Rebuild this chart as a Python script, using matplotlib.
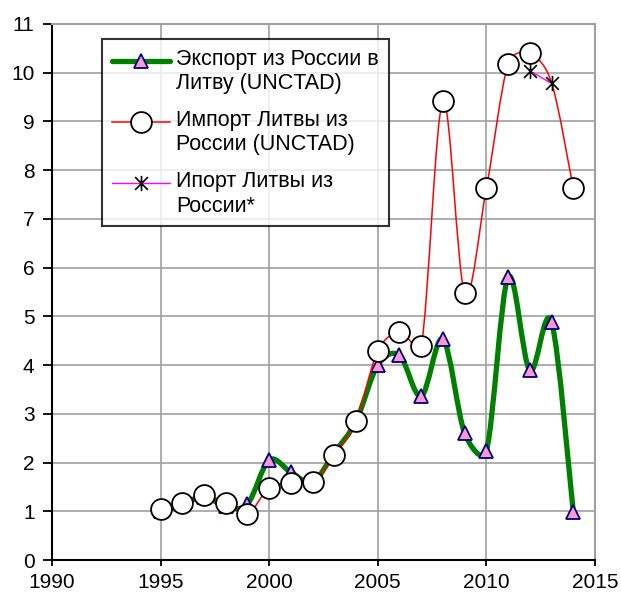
import numpy as np
import matplotlib
matplotlib.use('Agg')
import matplotlib.pyplot as plt
from matplotlib.path import Path
from matplotlib.patches import PathPatch
from matplotlib.lines import Line2D
from matplotlib.legend_handler import HandlerLine2D

plt.rcParams['font.family'] = ['Liberation Sans', 'DejaVu Sans']

years = list(range(1995, 2015))
export_ru_lt = [1.0, 1.15, 1.3, 1.1, 1.15, 2.05, 1.8, 1.6, 2.2, 2.85,
                4.0, 4.2, 3.36, 4.53, 2.6, 2.24, 5.8, 3.89, 4.88, 0.99]
import_lt_ru = [1.05, 1.17, 1.34, 1.17, 0.95, 1.48, 1.58, 1.6, 2.16, 2.86,
                4.29, 4.68, 4.39, 9.42, 5.48, 7.63, 10.18, 10.4, 9.8, 7.63]
star_years = [2012, 2013]
import_lt_ru_star = [10.04, 9.78]

labels = ['Экспорт из России в\nЛитву (UNCTAD)',
          'Импорт Литвы из\nРоссии (UNCTAD)',
          'Ипорт Литвы из\nРоссии*']

fig = plt.figure(figsize=(6.21, 5.94), dpi=100)
ax = fig.add_axes([0.0837, 0.0572, 0.8744, 0.9024])
ax.set_xlim(1990, 2015)
ax.set_ylim(0, 11)


def smooth_path(x, y):
    # Excel-like smoothed line: Catmull-Rom bezier in screen space,
    # control arms limited to half the segment length
    pts = ax.transData.transform(np.column_stack([x, y]).astype(float))
    n = len(pts)
    verts = [pts[0]]
    codes = [Path.MOVETO]
    for i in range(n - 1):
        p0 = pts[i - 1] if i > 0 else pts[i]
        p1 = pts[i]
        p2 = pts[i + 1]
        p3 = pts[i + 2] if i + 2 < n else pts[i + 1]
        d12 = np.hypot(*(p2 - p1))
        a1 = (p2 - p0) / 6.0
        a2 = (p3 - p1) / 6.0
        for a in (a1, a2):
            la = np.hypot(*a)
            if la > 0.5 * d12:
                a *= 0.5 * d12 / la
        verts += [p1 + a1, p2 - a2, p2]
        codes += [Path.CURVE4] * 3
    verts = ax.transData.inverted().transform(np.array(verts))
    return Path(verts, codes)


star = Path([(-1, -1), (1, 1), (-1, 1), (1, -1), (0, -1.2), (0, 1.2)],
            [Path.MOVETO, Path.LINETO, Path.MOVETO, Path.LINETO, Path.MOVETO, Path.LINETO])

# export line
ax.add_patch(PathPatch(smooth_path(years, export_ru_lt), fill=False,
                       edgecolor='#008000', lw=3.8, zorder=3, capstyle='round'))
ax.plot(years, export_ru_lt, ls='none', marker='^', ms=10, mfc='#ff99cc',
        mec='#000080', mew=1.3, zorder=4)

# import line
ax.add_patch(PathPatch(smooth_path(years, import_lt_ru), fill=False,
                       edgecolor='red', lw=1.1, zorder=5))
circ_idx = [i for i, y in enumerate(years) if y != 2013]
ax.plot([years[i] for i in circ_idx], [import_lt_ru[i] for i in circ_idx], ls='none',
        marker='o', ms=15, mfc='white', mec='black', mew=1.3, zorder=6)

# star series
ax.plot(star_years, import_lt_ru_star, color='magenta', lw=1, zorder=7)
ax.plot(star_years, import_lt_ru_star, ls='none', marker=star, ms=11,
        mec='black', mew=1.2, zorder=8)

ax.set_xticks(range(1990, 2016, 5))
ax.set_yticks(range(0, 12))
ax.grid(True, color='#a0a0a0', lw=1.2)
ax.set_axisbelow(True)
for s in ['top', 'right']:
    ax.spines[s].set_color('#a0a0a0')
    ax.spines[s].set_linewidth(1.5)
for s in ['left', 'bottom']:
    ax.spines[s].set_color('black')
    ax.spines[s].set_linewidth(1.5)
ax.tick_params(direction='out', width=1.3, labelsize=15)
ax.tick_params(axis='x', length=4.5, pad=5)
ax.tick_params(axis='y', length=6.5, pad=6)


class TopLineHandler(HandlerLine2D):
    # put the key at the first text line, as in the original legend
    def create_artists(self, legend, orig_handle, xdescent, ydescent, width,
                       height, fontsize, trans):
        arts = super().create_artists(legend, orig_handle, xdescent, ydescent,
                                      width, height, fontsize, trans)
        for a in arts:
            a.set_ydata(np.asarray(a.get_ydata(), float) + 0.52 * fontsize)
        return arts


handles = [
    Line2D([], [], color='#008000', lw=3.8, marker='^', ms=10, mfc='#ff99cc',
           mec='#000080', mew=1.3, solid_capstyle='round'),
    Line2D([], [], color='red', lw=1.1, marker='o', ms=15, mfc='white',
           mec='black', mew=1.3),
    Line2D([], [], color='magenta', lw=1, marker=star, ms=11, mec='black', mew=1.2),
]
leg = ax.legend(handles, labels, loc='upper left', bbox_to_anchor=(0.092, 0.972),
                fontsize=15.5, frameon=True, fancybox=False, edgecolor='black',
                handlelength=2.7, handletextpad=0.3, labelspacing=0.75,
                borderpad=0.45, borderaxespad=0,
                handler_map={Line2D: TopLineHandler()})
leg.get_frame().set_linewidth(1.5)
leg.set_zorder(10)

fig.savefig('out.png', dpi=100)
